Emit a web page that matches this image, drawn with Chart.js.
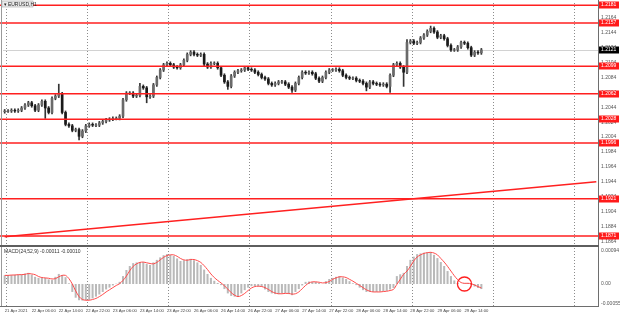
<!DOCTYPE html>
<html><head><meta charset="utf-8">
<script src="https://cdn.jsdelivr.net/npm/chart.js@4.4.1/dist/chart.umd.min.js"></script>
<style>
html,body{margin:0;padding:0;background:#fff;width:620px;height:316px;overflow:hidden}
canvas{position:absolute;left:0}
#c1{top:0}
#c2{top:247px}
</style></head>
<body>
<canvas id="c1" width="620" height="247"></canvas>
<canvas id="c2" width="620" height="69"></canvas>
<script>
// ---------------- DATA ----------------
const symbolTitle = "EURUSD,H1";
const macdTitle = "MACD(24,52,9) -0.00011 -0.00010";
const totalSlots = 176; // hourly slots visible on the chart (bars + empty space on the right)
const startTime = "2021-04-21T22:00:00Z";

const xTickLabels = ["21 Apr 2021","22 Apr 06:00","22 Apr 14:00","22 Apr 22:00","23 Apr 06:00","23 Apr 14:00",
  "23 Apr 22:00","26 Apr 06:00","26 Apr 14:00","26 Apr 22:00","27 Apr 06:00","27 Apr 14:00","27 Apr 22:00",
  "28 Apr 06:00","28 Apr 14:00","28 Apr 22:00","29 Apr 06:00","29 Apr 14:00"];

const closes = [
1.2039,1.2039,1.2040,1.2039,1.2040,1.2043,1.2047,1.2050,1.2046,1.2040,
1.2047,1.2052,1.2043,1.2037,1.2056,1.2059,1.2062,1.2037,1.2021,1.2019,
1.2013,1.2014,1.2005,1.2012,1.2019,1.2021,1.2020,1.2020,1.2023,1.2025,
1.2027,1.2028,1.2029,1.2029,1.2032,1.2054,1.2063,1.2063,1.2059,1.2060,
1.2072,1.2070,1.2058,1.2059,1.2074,1.2084,1.2094,1.2101,1.2103,1.2101,
1.2098,1.2097,1.2101,1.2107,1.2115,1.2118,1.2115,1.2114,1.2115,1.2102,
1.2098,1.2103,1.2103,1.2097,1.2087,1.2078,1.2072,1.2086,1.2091,1.2093,
1.2094,1.2097,1.2095,1.2094,1.2091,1.2088,1.2084,1.2082,1.2076,1.2074,
1.2076,1.2078,1.2078,1.2075,1.2071,1.2067,1.2076,1.2084,1.2091,1.2090,
1.2091,1.2089,1.2083,1.2079,1.2084,1.2091,1.2094,1.2094,1.2095,1.2093,
1.2087,1.2084,1.2083,1.2083,1.2080,1.2079,1.2076,1.2071,1.2078,1.2076,
1.2075,1.2074,1.2075,1.2072,1.2087,1.2101,1.2103,1.2098,1.2091,1.2131,
1.2133,1.2130,1.2131,1.2137,1.2141,1.2146,1.2150,1.2145,1.2138,1.2140,
1.2136,1.2127,1.2121,1.2121,1.2125,1.2131,1.2130,1.2124,1.2114,1.2118,
1.2117,1.2121];
const firstOpen = 1.2038;
const wickPad = 0.0002;
const highOverride = {16:1.2075, 40:1.2076, 119:1.2135, 126:1.2153};
const lowOverride = {12:1.2029, 22:1.2000, 42:1.2050, 66:1.2068, 85:1.2064, 107:1.2066, 114:1.2064, 118:1.2072};

const priceMin = 1.1859, priceMax = 1.2184;
const priceTicks = [1.1864,1.1884,1.1904,1.1924,1.1944,1.1964,1.1984,1.2004,1.2024,1.2044,1.2064,1.2084,1.2104,1.2124,1.2144,1.2164];
const levels = [1.2181,1.2157,1.2099,1.2062,1.2028,1.1996,1.1921,1.1871];
const trendStart = 1.1870, trendEnd = 1.1944;

const macd = [
0.00024,0.00025,0.00025,0.00026,0.00026,0.00027,0.00029,0.00031,0.00026,0.00020,
0.00017,0.00018,0.00017,0.00013,0.00011,0.00020,0.00028,0.00025,0.00019,0.00002,
-0.00022,-0.00038,-0.00045,-0.00046,-0.00045,-0.00044,-0.00040,-0.00035,-0.00029,-0.00022,
-0.00015,-0.00010,-0.00004,0.00001,0.00006,0.00022,0.00039,0.00050,0.00058,0.00060,
0.00061,0.00061,0.00056,0.00053,0.00060,0.00067,0.00074,0.00080,0.00083,0.00081,
0.00078,0.00071,0.00064,0.00066,0.00069,0.00070,0.00066,0.00060,0.00053,0.00040,
0.00028,0.00017,0.00009,0.00003,-0.00003,-0.00014,-0.00026,-0.00033,-0.00035,-0.00036,
-0.00026,-0.00017,-0.00010,-0.00006,-0.00006,-0.00007,-0.00008,-0.00015,-0.00022,-0.00026,
-0.00028,-0.00028,-0.00026,-0.00025,-0.00028,-0.00031,-0.00022,-0.00014,-0.00004,0.00006,
0.00007,0.00006,0.00006,0.00003,0.00000,0.00008,0.00014,0.00017,0.00020,0.00022,
0.00018,0.00014,0.00008,0.00002,-0.00003,-0.00010,-0.00017,-0.00022,-0.00022,-0.00022,
-0.00022,-0.00021,-0.00020,-0.00019,-0.00015,-0.00011,0.00022,0.00027,0.00031,0.00050,
0.00067,0.00076,0.00083,0.00085,0.00087,0.00088,0.00089,0.00081,0.00072,0.00061,
0.00050,0.00036,0.00022,0.00010,0.00003,0.00000,0.00002,0.00003,-0.00003,-0.00007,
-0.00011,-0.00014];
const signal = [
0.00024,0.00024,0.00025,0.00025,0.00026,0.00026,0.00027,0.00029,0.00028,0.00026,
0.00021,0.00018,0.00017,0.00016,0.00014,0.00015,0.00020,0.00024,0.00024,0.00015,
0.00000,-0.00019,-0.00035,-0.00043,-0.00045,-0.00045,-0.00043,-0.00040,-0.00035,-0.00029,
-0.00022,-0.00016,-0.00010,-0.00004,0.00001,0.00010,0.00022,0.00037,0.00049,0.00056,
0.00060,0.00061,0.00059,0.00057,0.00056,0.00060,0.00067,0.00074,0.00079,0.00081,
0.00081,0.00077,0.00071,0.00067,0.00066,0.00068,0.00068,0.00065,0.00060,0.00051,
0.00040,0.00028,0.00018,0.00010,0.00003,-0.00005,-0.00014,-0.00024,-0.00031,-0.00035,
-0.00032,-0.00026,-0.00018,-0.00011,-0.00007,-0.00006,-0.00007,-0.00010,-0.00015,-0.00021,
-0.00025,-0.00027,-0.00027,-0.00026,-0.00026,-0.00028,-0.00027,-0.00022,-0.00013,-0.00004,
0.00003,0.00006,0.00006,0.00005,0.00003,0.00004,0.00007,0.00013,0.00017,0.00020,
0.00020,0.00018,0.00013,0.00008,0.00002,-0.00004,-0.00010,-0.00016,-0.00020,-0.00022,
-0.00022,-0.00022,-0.00021,-0.00020,-0.00018,-0.00015,-0.00001,0.00013,0.00027,0.00036,
0.00049,0.00064,0.00075,0.00081,0.00085,0.00087,0.00088,0.00086,0.00081,0.00071,
0.00061,0.00049,0.00036,0.00023,0.00012,0.00004,0.00002,0.00002,0.00001,-0.00003,
-0.00007,-0.00011];
const macdMin = -0.00061, macdMax = 0.00100;
const macdTickValues = [0.00094, 0, -0.00055];
const macdTickLabels = ["0.00094","0.00","-0.00055"];
const circleIndex = 136, circleValue = 0.00000;
const gridEvery = 24, gridFirst = 1;

// ---------------- BUILD ----------------
const labels = [];
{
  let t = new Date(startTime).getTime();
  for (let i = 0; i < totalSlots; i++) {
    let d = new Date(t);
    while (d.getUTCDay() === 6 || d.getUTCDay() === 0) { t += 3600000; d = new Date(t); }
    labels.push(d.toISOString().slice(5,16).replace('T',' '));
    t += 3600000;
  }
}
const opens = closes.map((c,i)=> i===0 ? firstOpen : closes[i-1]);
const highs = closes.map((c,i)=> highOverride[i] ?? Math.max(opens[i],c) + wickPad);
const lows  = closes.map((c,i)=> lowOverride[i]  ?? Math.min(opens[i],c) - wickPad);
const bodies = closes.map((c,i)=> Math.abs(c-opens[i])<0.00006 ? [Math.min(c,opens[i])-0.00003, Math.max(c,opens[i])+0.00003] : [opens[i], c]);
const bodyColors = closes.map((c,i)=> c>=opens[i] ? '#6a6a6a' : '#1a1a1a');
const lastClose = closes[closes.length-1];
const trendData = labels.map((l,i)=> i===0 ? trendStart : (i===totalSlots-1 ? trendEnd : null));
const FONT = "'Liberation Sans Narrow', 'Liberation Sans', sans-serif";

function vGrid(chart){
  const {ctx, chartArea:a, scales:{x}} = chart;
  ctx.save();
  ctx.strokeStyle = '#8c8c8c'; ctx.lineWidth = 1; ctx.setLineDash([1,2]);
  for (let i = gridFirst; i < totalSlots; i += gridEvery) {
    const px = Math.round(x.getPixelForValue(i)) - 1.5;
    ctx.beginPath(); ctx.moveTo(px, a.top); ctx.lineTo(px, a.bottom); ctx.stroke();
  }
  ctx.restore();
}
function axisBox(ctx, yPix, text, bg, fg){
  ctx.fillStyle = bg;
  ctx.fillRect(599, Math.round(yPix)-3.5, 20, 7);
  ctx.fillStyle = fg; ctx.font = "5px " + FONT; ctx.textBaseline = 'middle'; ctx.textAlign='left';
  ctx.fillText(text, 601, Math.round(yPix));
}
function noPad(s){ s.paddingTop = 0; s.paddingBottom = 0; s.paddingLeft = 0; s.paddingRight = 0; }

const mainDeco = {
  id:'mainDeco',
  beforeDatasetsDraw(chart){
    const {ctx, chartArea:a, scales:{y}} = chart;
    vGrid(chart);
    ctx.save();
    ctx.strokeStyle = '#d2d2d2'; ctx.lineWidth = 1;
    const py = Math.round(y.getPixelForValue(lastClose)) + 0.5;
    ctx.beginPath(); ctx.moveTo(a.left, py); ctx.lineTo(a.right, py); ctx.stroke();
    ctx.restore();
  },
  afterDatasetsDraw(chart){
    const {ctx, chartArea:a, scales:{y}} = chart;
    ctx.save();
    ctx.strokeStyle = '#ff1f1f'; ctx.lineWidth = 1.5;
    for (const lv of levels) {
      const py = y.getPixelForValue(lv);
      ctx.beginPath(); ctx.moveTo(0, py); ctx.lineTo(a.right, py); ctx.stroke();
    }
    ctx.restore();
  },
  afterDraw(chart){
    const {ctx, chartArea:a, scales:{y}} = chart;
    ctx.save();
    for (const lv of levels) axisBox(ctx, y.getPixelForValue(lv), lv.toFixed(4), '#ff1a1a', '#ffffff');
    axisBox(ctx, y.getPixelForValue(lastClose), lastClose.toFixed(4), '#000000', '#ffffff');
    ctx.strokeStyle = '#9a9a9a'; ctx.lineWidth = 1;
    ctx.beginPath(); ctx.moveTo(1.5, 0); ctx.lineTo(1.5, 247); ctx.stroke();
    ctx.strokeStyle = '#6e6e6e';
    ctx.beginPath(); ctx.moveTo(a.right+0.5, 0); ctx.lineTo(a.right+0.5, 247); ctx.stroke();
    ctx.lineWidth = 2; ctx.strokeStyle = '#5e5e5e';
    ctx.beginPath(); ctx.moveTo(0, 246); ctx.lineTo(a.right+1, 246); ctx.stroke();
    ctx.fillStyle = '#ececec'; ctx.fillRect(2, 1, 31, 6);
    ctx.strokeStyle = '#a8a8a8'; ctx.lineWidth = 0.6; ctx.strokeRect(2, 1, 31, 6);
    ctx.fillStyle = '#222'; ctx.font = "5px " + FONT; ctx.textBaseline='middle'; ctx.textAlign='left';
    ctx.fillText("\u25BE " + symbolTitle, 3.5, 4.2);
    ctx.restore();
  }
};

new Chart(document.getElementById('c1'), {
  data: {
    labels,
    datasets: [
      {type:'bar', data: closes.map((c,i)=>[lows[i], highs[i]]), backgroundColor:'#333333', barThickness:1, grouped:false, order:3},
      {type:'bar', data: bodies, backgroundColor: bodyColors, barThickness:2, grouped:false, order:2},
      {type:'line', data: trendData, spanGaps:true, borderColor:'#ff2020', borderWidth:1.4, pointRadius:0, order:1}
    ]
  },
  options: {
    responsive:false, animation:false, events:[],
    layout:{padding:{left:3, top:3, right:0, bottom:2}},
    plugins:{legend:{display:false}, tooltip:{enabled:false}},
    scales:{
      x:{type:'category', display:false, offset:true},
      y:{position:'right', min:priceMin, max:priceMax,
         afterFit(s){ s.width = 22; noPad(s); },
         afterBuildTicks(s){ s.ticks = priceTicks.map(v=>({value:v})); },
         grid:{display:false, drawTicks:false},
         border:{display:false},
         ticks:{padding:3, color:'#555', font:{size:5, family:FONT}, callback:(v)=>Number(v).toFixed(4)}
      }
    }
  },
  plugins:[mainDeco]
});

const macdDeco = {
  id:'macdDeco',
  beforeDatasetsDraw(chart){ vGrid(chart); },
  afterDatasetsDraw(chart){
    const {ctx, scales:{x,y}} = chart;
    ctx.save();
    ctx.strokeStyle = '#ff1f1f'; ctx.lineWidth = 1.3;
    ctx.beginPath(); ctx.arc(x.getPixelForValue(circleIndex), y.getPixelForValue(circleValue), 7, 0, Math.PI*2); ctx.stroke();
    ctx.restore();
  },
  afterDraw(chart){
    const {ctx, chartArea:a} = chart;
    ctx.save();
    ctx.fillStyle = '#333'; ctx.font = "5px " + FONT; ctx.textBaseline='middle'; ctx.textAlign='left';
    ctx.fillText(macdTitle, 4, a.top + 4);
    ctx.strokeStyle = '#9a9a9a'; ctx.lineWidth = 1;
    ctx.beginPath(); ctx.moveTo(1.5, 0); ctx.lineTo(1.5, a.bottom); ctx.stroke();
    ctx.strokeStyle = '#6e6e6e';
    ctx.beginPath(); ctx.moveTo(a.right+0.5, 0); ctx.lineTo(a.right+0.5, a.bottom); ctx.stroke();
    ctx.beginPath(); ctx.moveTo(0, a.bottom+0.5); ctx.lineTo(a.right+1, a.bottom+0.5); ctx.stroke();
    ctx.restore();
  }
};

new Chart(document.getElementById('c2'), {
  data: {
    labels,
    datasets: [
      {type:'bar', data: macd, backgroundColor:'#b9b9b9', barPercentage:0.6, categoryPercentage:1, grouped:false, order:2},
      {type:'line', data: signal, borderColor:'#ff4a4a', borderWidth:1, pointRadius:0, tension:0.3, order:1}
    ]
  },
  options: {
    responsive:false, animation:false, events:[],
    layout:{padding:{left:3, top:1, right:0, bottom:0}},
    plugins:{legend:{display:false}, tooltip:{enabled:false}},
    scales:{
      x:{type:'category', offset:true,
         afterFit(s){ s.height = 10; noPad(s); },
         grid:{display:false, drawTicks:false}, border:{display:false},
         ticks:{autoSkip:false, maxRotation:0, minRotation:0, align:'start', padding:2, color:'#444', font:{size:4.2, family:FONT},
                callback:(v,i)=> (i % 8 === 0 && i/8 < xTickLabels.length) ? xTickLabels[i/8] : ''}
      },
      y:{position:'right', min:macdMin, max:macdMax,
         afterFit(s){ s.width = 22; noPad(s); },
         afterBuildTicks(s){ s.ticks = macdTickValues.map(v=>({value:v})); },
         grid:{display:false, drawTicks:false}, border:{display:false},
         ticks:{padding:3, color:'#555', font:{size:5, family:FONT},
                callback:(v,i)=> macdTickLabels[i]}
      }
    }
  },
  plugins:[macdDeco]
});
</script>
</body></html>
